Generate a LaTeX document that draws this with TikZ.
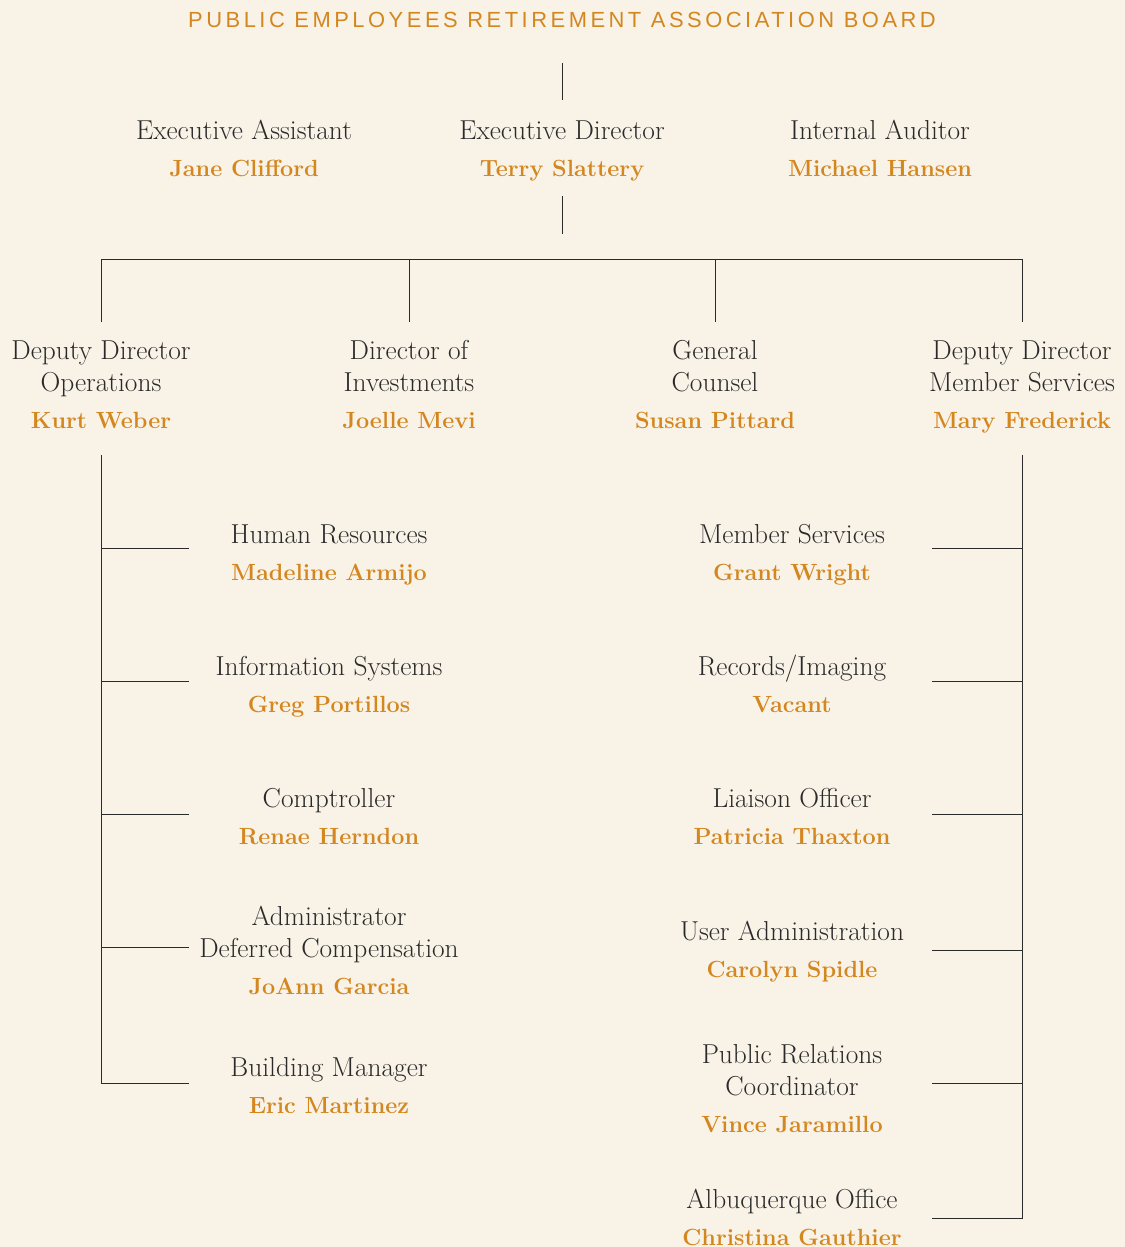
\documentclass[tikz,border=0pt]{standalone}
\usepackage{fontspec}
\newfontfamily\titlefont[LetterSpace=16]{Liberation Sans}
\definecolor{bg}{HTML}{F8F2E7}
\definecolor{org}{HTML}{D4861F}
\definecolor{ink}{HTML}{2A2A2A}
\tikzset{
  ln/.style={draw=ink, line width=0.8bp},
  ttl/.style={anchor=base, inner sep=0pt, text=ink, font=\fontsize{27.5}{32}\selectfont},
  nm/.style={anchor=base, inner sep=0pt, text=org, font=\fontsize{23.5}{28}\selectfont\bfseries},
}
% one-line title entry: id, x, title baseline, title, name
\newcommand\pone[5]{%
  \node[ttl] (#1t) at (#2,#3) {#4};
  \node[nm] (#1n) at (#2,#3+37.5) {#5};}
% two-line title entry
\newcommand\ptwo[6]{%
  \node[ttl] (#1t) at (#2,#3) {#4};
  \node[ttl] (#1u) at (#2,#3+32) {#5};
  \node[nm] (#1n) at (#2,#3+69.5) {#6};}
\begin{document}
\begin{tikzpicture}[x=1bp,y=-1bp]
\fill[bg] (0,0) rectangle (1125,1247);
\useasboundingbox (0,0) rectangle (1125,1247);

\node[anchor=base, inner sep=0pt, text=org, font=\titlefont\fontsize{22}{26}\selectfont] (board) at (562,27) {PUBLIC EMPLOYEES RETIREMENT ASSOCIATION BOARD};

% row 1
\pone{ea}{244}{139}{Executive Assistant}{Jane Clifford}
\pone{ed}{562}{139}{Executive Director}{Terry Slattery}
\pone{ia}{880}{139}{Internal Auditor}{Michael Hansen}

% row 2
\ptwo{ddo}{101}{359}{Deputy Director}{Operations}{Kurt Weber}
\ptwo{doi}{409}{359}{Director of}{Investments}{Joelle Mevi}
\ptwo{gc}{715}{359}{General}{Counsel}{Susan Pittard}
\ptwo{ddm}{1022}{359}{Deputy Director}{Member Services}{Mary Frederick}

% left column
\pone{hr}{329}{543}{Human Resources}{Madeline Armijo}
\pone{is}{329}{675}{Information Systems}{Greg Portillos}
\pone{cp}{329}{807}{Comptroller}{Renae Herndon}
\ptwo{ad}{329}{925}{Administrator}{Deferred Compensation}{JoAnn Garcia}
\pone{bm}{329}{1076}{Building Manager}{Eric Martinez}

% right column
\pone{ms}{792}{543}{Member Services}{Grant Wright}
\pone{ri}{792}{675}{Records/Imaging}{Vacant}
\pone{lo}{792}{807}{Liaison Officer}{Patricia Thaxton}
\pone{ua}{792}{940}{User Administration}{Carolyn Spidle}
\ptwo{pr}{792}{1063}{Public Relations}{Coordinator}{Vince Jaramillo}
\pone{ao}{792}{1208}{Albuquerque Office}{Christina Gauthier}

% coordinates
\coordinate (b1) at (562,63);
\coordinate (b2) at (562,100);
\coordinate (e1) at (562,196);
\coordinate (e2) at (562,234);
\coordinate (h1) at (101,259);
\coordinate (h2) at (409,259);
\coordinate (h3) at (715,259);
\coordinate (h4) at (1022,259);
\coordinate (d1) at (101,322);
\coordinate (d2) at (409,322);
\coordinate (d3) at (715,322);
\coordinate (d4) at (1022,322);
\coordinate (lt) at (101,455);
\coordinate (rt) at (1022,455);
\foreach \n/\y in {hr/548, is/681, cp/814, ad/947, bm/1083}{
  \coordinate (L\n) at (101,\y);
  \coordinate (E\n) at (189,\y);
}
\foreach \n/\y in {ms/548, ri/681, lo/814, ua/950, pr/1083, ao/1218}{
  \coordinate (R\n) at (1022,\y);
  \coordinate (E\n) at (932,\y);
}

\draw[ln] (b1) -- (b2);
\draw[ln] (e1) -- (e2);
\draw[ln] (d1) -- (h1) -- (h4) -- (d4);
\draw[ln] (h2) -- (d2);
\draw[ln] (h3) -- (d3);
\draw[ln] (lt) -- (Lbm) -- (Ebm);
\foreach \n in {hr,is,cp,ad}{\draw[ln] (L\n) -- (E\n);}
\draw[ln] (rt) -- (Rao) -- (Eao);
\foreach \n in {ms,ri,lo,ua,pr}{\draw[ln] (R\n) -- (E\n);}
\end{tikzpicture}
\end{document}
